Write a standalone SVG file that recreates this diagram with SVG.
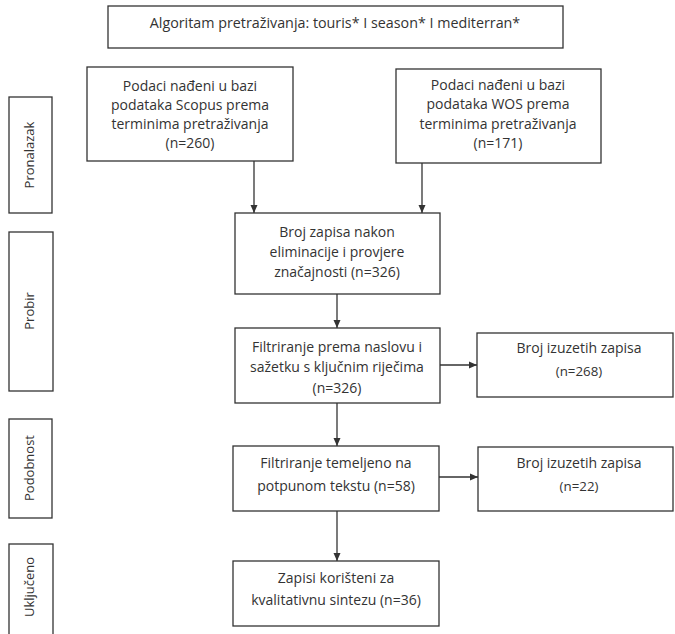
<svg xmlns="http://www.w3.org/2000/svg" width="675" height="634" viewBox="0 0 675 634">
<style>
.box{fill:#fff;stroke:#333;stroke-width:1.3}
.t{font-family:"Open Sans","Liberation Sans",Arial,sans-serif;font-size:14px;fill:#333;text-anchor:middle}
.side{font-size:13px}
.s{font-size:13.3px}
.top{font-size:14.3px}
.c{stroke:#333;stroke-width:1.3;fill:none}
</style>
<defs>
<marker id="ah" viewBox="0 0 8 8" refX="8" refY="4" markerWidth="8" markerHeight="8" markerUnits="userSpaceOnUse" orient="auto">
<path d="M0,0.5 L8,4 L0,7.5 Z" fill="#333"/>
</marker>
</defs>
<rect width="675" height="634" fill="#fff"/>

<g id="stage-pronalazak">
<rect class="box" x="9" y="97" width="43" height="116"/>
<text class="t side" transform="translate(34,155) rotate(-90)">Pronalazak</text>
</g>
<g id="stage-probir">
<rect class="box" x="9" y="232" width="44" height="159"/>
<text class="t side" transform="translate(34,311) rotate(-90)">Probir</text>
</g>
<g id="stage-podobnost">
<rect class="box" x="9" y="419" width="43" height="99"/>
<text class="t side" transform="translate(34,468) rotate(-90)">Podobnost</text>
</g>
<g id="stage-ukljuceno">
<rect class="box" x="9" y="544" width="44" height="100"/>
<text class="t side" transform="translate(34,587) rotate(-90)">Uključeno</text>
</g>

<g id="algoritam">
<rect class="box" x="108" y="6" width="455" height="42"/>
<text class="t top" x="335" y="28">Algoritam pretraživanja: touris* I season* I mediterran*</text>
</g>
<g id="scopus">
<rect class="box" x="87" y="67" width="206" height="94"/>
<text class="t" x="190" y="91">Podaci nađeni u bazi</text>
<text class="t" x="190" y="110">podataka Scopus prema</text>
<text class="t" x="190" y="129">terminima pretraživanja</text>
<text class="t" x="190" y="148">(n=260)</text>
</g>
<g id="wos">
<rect class="box" x="396" y="69" width="205" height="94"/>
<text class="t" x="498" y="90">Podaci nađeni u bazi</text>
<text class="t" x="498" y="109">podataka WOS prema</text>
<text class="t" x="498" y="129">terminima pretraživanja</text>
<text class="t" x="498" y="148">(n=171)</text>
</g>
<g id="broj-zapisa">
<rect class="box" x="235" y="213" width="205" height="81"/>
<text class="t" x="337" y="237">Broj zapisa nakon</text>
<text class="t" x="337" y="257">eliminacije i provjere</text>
<text class="t" x="337" y="277">značajnosti (n=326)</text>
</g>
<g id="filtriranje-naslov">
<rect class="box" x="235" y="328" width="205" height="75"/>
<text class="t" x="337" y="352">Filtriranje prema naslovu i</text>
<text class="t" x="337" y="372">sažetku s ključnim riječima</text>
<text class="t" x="337" y="393">(n=326)</text>
</g>
<g id="izuzeti-1">
<rect class="box" x="477" y="333" width="196" height="64"/>
<text class="t" x="579" y="353">Broj izuzetih zapisa</text>
<text class="t s" x="579" y="376">(n=268)</text>
</g>
<g id="filtriranje-tekst">
<rect class="box" x="233" y="446" width="206" height="65"/>
<text class="t" x="336" y="468">Filtriranje temeljeno na</text>
<text class="t" x="336" y="491">potpunom tekstu (n=58)</text>
</g>
<g id="izuzeti-2">
<rect class="box" x="478" y="447" width="195" height="64"/>
<text class="t" x="579" y="468">Broj izuzetih zapisa</text>
<text class="t s" x="579" y="491">(n=22)</text>
</g>
<g id="ukljuceni">
<rect class="box" x="233" y="561" width="206" height="65"/>
<text class="t" x="336" y="583">Zapisi korišteni za</text>
<text class="t" x="336" y="605">kvalitativnu sintezu (n=36)</text>
</g>

<g id="connectors">
<line class="c" x1="254" y1="161" x2="254" y2="213" marker-end="url(#ah)"/>
<line class="c" x1="422" y1="163" x2="422" y2="213" marker-end="url(#ah)"/>
<line class="c" x1="337" y1="294" x2="337" y2="328" marker-end="url(#ah)"/>
<line class="c" x1="440" y1="365" x2="477" y2="365" marker-end="url(#ah)"/>
<line class="c" x1="337" y1="403" x2="337" y2="446" marker-end="url(#ah)"/>
<line class="c" x1="439" y1="477" x2="478" y2="477" marker-end="url(#ah)"/>
<line class="c" x1="337" y1="511" x2="337" y2="561" marker-end="url(#ah)"/>
</g>
</svg>
